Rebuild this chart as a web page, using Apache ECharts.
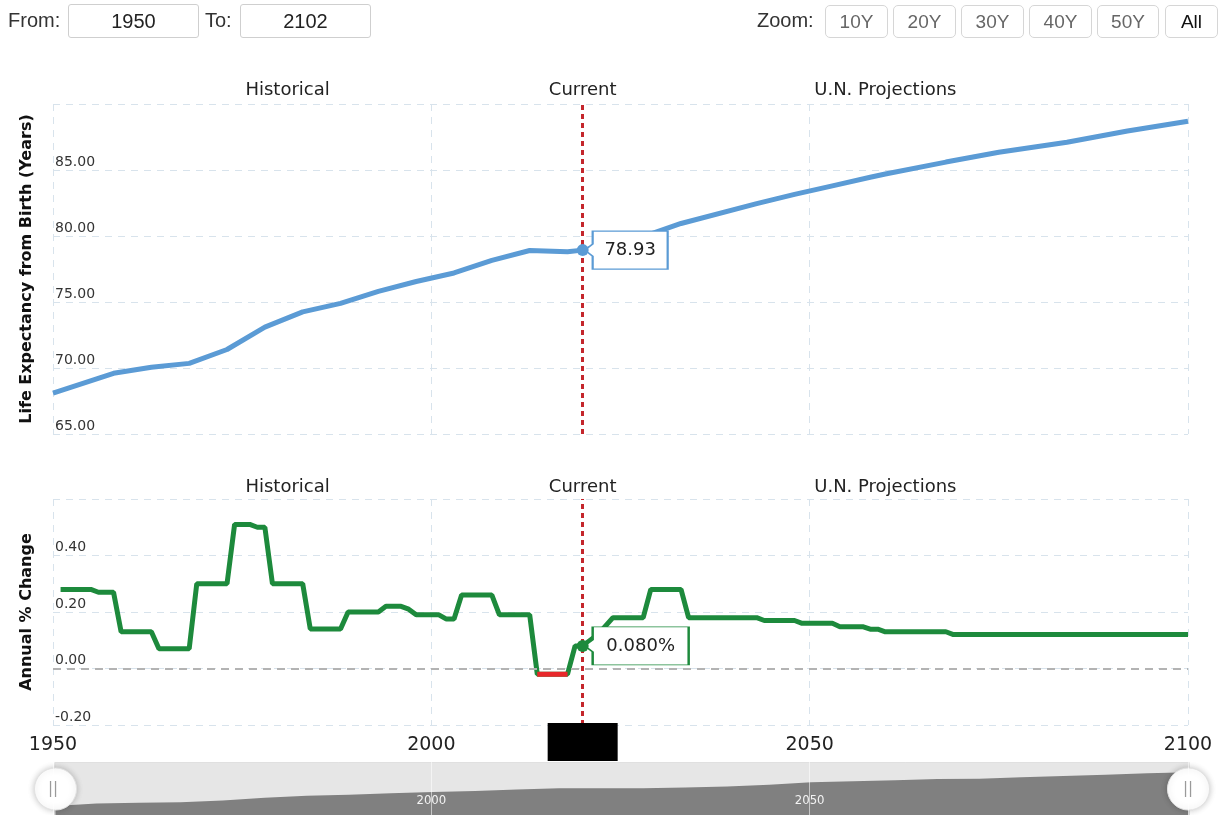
<!DOCTYPE html>
<html><head><meta charset="utf-8">
<script src="https://cdn.jsdelivr.net/npm/echarts@6/dist/echarts.min.js"></script>
<style>
html,body{margin:0;padding:0;background:#fff;width:1221px;height:815px;overflow:hidden;font-family:"Liberation Sans",Arial,sans-serif;}
#chart{position:absolute;left:0;top:0;width:1221px;height:815px;}
.hdr{position:absolute;top:0;left:0;width:1221px;height:44px;z-index:5;}
.t{position:absolute;top:8px;font-size:20px;color:#333;line-height:24px;}
.box{position:absolute;top:4px;height:34px;border:1px solid #cfcfcf;border-radius:3px;box-sizing:border-box;text-align:center;font-size:20px;line-height:32px;color:#222;background:#fff;}
.btn{position:absolute;top:5px;height:33px;border:1px solid #d6d6d6;border-radius:5px;box-sizing:border-box;text-align:center;font-size:19px;line-height:31px;color:#666;background:#fff;}
</style></head>
<body>
<div id="chart"></div>
<div class="hdr">
  <div class="t" style="left:8px">From:</div>
  <div class="box" style="left:68px;width:131px">1950</div>
  <div class="t" style="left:205px">To:</div>
  <div class="box" style="left:240px;width:131px">2102</div>
  <div class="t" style="left:757px">Zoom:</div>
  <div class="btn" style="left:825px;width:63px">10Y</div>
  <div class="btn" style="left:893px;width:63px">20Y</div>
  <div class="btn" style="left:961px;width:63px">30Y</div>
  <div class="btn" style="left:1029px;width:63px">40Y</div>
  <div class="btn" style="left:1097px;width:62px">50Y</div>
  <div class="btn" style="left:1165px;width:53px;color:#111">All</div>
</div>
<script>
// ---- data ----
const lifeYears  = [1950,1958,1963,1968,1973,1978,1983,1988,1993,1998,2003,2008,2013,2018,2020,2024,2028,2033,2043,2048,2053,2058,2060,2068,2075,2084,2092,2100];
const lifeValues = [68.1,69.6,70.05,70.35,71.4,73.1,74.25,74.9,75.8,76.55,77.2,78.15,78.9,78.8,78.93,79.35,79.95,80.95,82.45,83.15,83.8,84.45,84.7,85.6,86.35,87.1,87.95,88.7];

const changeYears  = [1951,1955,1956,1958,1959,1963,1964,1968,1969,1973,1974,1976,1977,1978,1979,1983,1984,1988,1989,1993,1994,1996,1997,1998,2001,2002,2003,2004,2008,2009,2013,2014,2018,2019,2020,2021,2022,2023,2024,2028,2029,2033,2034,2043,2044,2048,2049,2053,2054,2057,2058,2059,2060,2068,2069,2100];
const changeValues = [0.28,0.28,0.27,0.27,0.13,0.13,0.07,0.07,0.30,0.30,0.51,0.51,0.50,0.50,0.30,0.30,0.14,0.14,0.20,0.20,0.22,0.22,0.21,0.19,0.19,0.175,0.175,0.26,0.26,0.19,0.19,-0.02,-0.02,0.08,0.08,0.10,0.12,0.15,0.18,0.18,0.28,0.28,0.18,0.18,0.17,0.17,0.16,0.16,0.148,0.148,0.139,0.139,0.13,0.13,0.12,0.12];

const currentYear = 2020;
const sectionLabels = ['Historical', 'Current', 'U.N. Projections'];
const sectionYears = [1981, 2020, 2060];

// ---- styles ----
const FONT = 'DejaVu Sans';
const BLUE = '#5b9bd5', GREEN = '#1d8a3c', RED = '#e8282b', VLINE = '#c4262c';
const gridDash = {color: '#d8e3ec', width: 1, type: [7, 6]};

const lifeData = lifeYears.map((y, i) => [y, lifeValues[i]]);
const changeData = changeYears.map((y, i) => [y, changeValues[i]]);
// negative stretch (drawn red) taken from the same arrays
const negData = changeData.filter(d => d[1] < 0);
const curLife = lifeValues[lifeYears.indexOf(currentYear)];
const curChange = changeValues[changeYears.indexOf(currentYear)];

const chart = echarts.init(document.getElementById('chart'), null, {renderer: 'canvas'});

function xAxisBase(gi, showLabels) {
  return {
    type: 'value', gridIndex: gi, min: 1950, max: 2100, interval: 50,
    axisLine: {show: false}, axisTick: {show: false},
    axisLabel: {show: showLabels, fontFamily: FONT, fontSize: 19, color: '#222', margin: 11,
      formatter: v => String(v)},
    splitLine: {show: true, lineStyle: gridDash}
  };
}

function callout(year, value, color, width, offsetX, text) {
  const w = width;
  return {
    coord: [year, value],
    symbol: 'path://M8,0L' + w + ',0L' + w + ',38L8,38L8,25L0,19L8,13Z',
    symbolSize: [w, 38], symbolOffset: [offsetX, 0],
    itemStyle: {color: '#fff', borderColor: color, borderWidth: 1.5},
    label: {show: true, position: 'inside', offset: [4, 0], formatter: () => text,
      fontFamily: FONT, fontSize: 18, color: '#222'}
  };
}

const option = {
  animation: false,
  backgroundColor: '#fff',
  grid: [
    {left: 53, right: 33, top: 104, height: 330, outerBoundsMode: 'none'},
    {left: 53, right: 33, top: 499, height: 226, outerBoundsMode: 'none'},
    {left: 53, right: 33, top: 762, height: 54, outerBoundsMode: 'none'}
  ],
  xAxis: [
    xAxisBase(0, false),
    xAxisBase(1, true),
    {
      type: 'value', gridIndex: 2, min: 1950, max: 2100, interval: 50, z: 10,
      axisLine: {show: false}, axisTick: {show: false},
      axisLabel: {show: true, inside: true, fontFamily: 'DejaVu Sans Condensed', fontSize: 13, color: '#f2f2f2',
        margin: 9, showMinLabel: false, showMaxLabel: false, formatter: v => String(v)},
      splitLine: {show: true, lineStyle: {color: 'rgba(255,255,255,0.55)', width: 1}}
    }
  ],
  yAxis: [
    {
      type: 'value', gridIndex: 0, min: 65, max: 90, interval: 5,
      name: 'Life Expectancy from Birth (Years)', nameLocation: 'middle', nameGap: 18, nameRotate: 90,
      nameTextStyle: {fontFamily: FONT, fontSize: 16, fontWeight: 'bold', color: '#111'},
      axisLine: {show: false}, axisTick: {show: false},
      axisLabel: {inside: true, margin: 2, verticalAlign: 'bottom', padding: [0, 0, 1, 0],
        fontFamily: FONT, fontSize: 14, color: '#333', showMaxLabel: false,
        formatter: v => v.toFixed(2)},
      splitLine: {show: true, lineStyle: gridDash}
    },
    {
      type: 'value', gridIndex: 1, min: -0.2, max: 0.6, interval: 0.2,
      name: 'Annual % Change', nameLocation: 'middle', nameGap: 18, nameRotate: 90,
      nameTextStyle: {fontFamily: FONT, fontSize: 16, fontWeight: 'bold', color: '#111'},
      axisLine: {show: false}, axisTick: {show: false},
      axisLabel: {inside: true, margin: 2, verticalAlign: 'bottom', padding: [0, 0, 1, 0],
        fontFamily: FONT, fontSize: 14, color: '#333', showMaxLabel: false,
        formatter: v => v.toFixed(2)},
      splitLine: {show: true, lineStyle: gridDash}
    },
    {type: 'value', gridIndex: 2, min: 0, max: 1, show: false}
  ],
  dataZoom: [{
    type: 'slider', xAxisIndex: [0, 1], filterMode: 'none', start: 0, end: 100,
    left: 53, right: 33, top: 762, height: 54,
    backgroundColor: '#e6e6e6', borderColor: '#e0e0e0', fillerColor: 'rgba(0,0,0,0)',
    showDetail: false, brushSelect: false, moveHandleSize: 0, showDataShadow: true,
    dataBackground: {lineStyle: {color: '#808080', width: 0, opacity: 0}, areaStyle: {color: '#808080', opacity: 1}},
    selectedDataBackground: {lineStyle: {color: '#808080', width: 0, opacity: 0}, areaStyle: {color: '#808080', opacity: 1}},
    handleIcon: 'circle', handleSize: '78%',
    handleStyle: {color: '#fff', borderColor: '#e2e2e2', borderWidth: 1, shadowBlur: 6, shadowColor: 'rgba(0,0,0,0.22)'},
    emphasis: {handleStyle: {color: '#fff', borderColor: '#e2e2e2'}}
  }],
  series: [
    {
      type: 'line', xAxisIndex: 0, yAxisIndex: 0, data: lifeData,
      showSymbol: false, lineStyle: {color: BLUE, width: 5}, itemStyle: {color: BLUE},
      silent: true, z: 3,
      markLine: {
        silent: true, symbol: ['none', 'none'], animation: false,
        label: {show: false},
        data: [{xAxis: currentYear, lineStyle: {color: VLINE, width: 3, type: [5, 4]}}]
      },
      markPoint: {
        silent: true, animation: false,
        data: [
          callout(currentYear, curLife, BLUE, 83, 43.5, curLife.toFixed(2)),
          {coord: [currentYear, curLife], symbol: 'circle', symbolSize: 12,
            itemStyle: {color: BLUE}, label: {show: false}}
        ]
      }
    },
    {
      type: 'line', xAxisIndex: 1, yAxisIndex: 1, data: changeData,
      showSymbol: false, lineStyle: {color: GREEN, width: 5}, itemStyle: {color: GREEN},
      silent: true, z: 3,
      markLine: {
        silent: true, symbol: ['none', 'none'], animation: false,
        label: {show: false},
        data: [
          {yAxis: 0, lineStyle: {color: '#b3b3b3', width: 2, type: [8, 6]}},
          {xAxis: currentYear, lineStyle: {color: VLINE, width: 3, type: [5, 4]}}
        ]
      },
      markPoint: {
        silent: true, animation: false,
        data: [
          callout(currentYear, curChange, GREEN, 104, 54, curChange.toFixed(3) + '%'),
          {coord: [currentYear, curChange], symbol: 'circle', symbolSize: 12,
            itemStyle: {color: GREEN}, label: {show: false}}
        ]
      }
    },
    {
      type: 'line', xAxisIndex: 1, yAxisIndex: 1, data: negData,
      showSymbol: false, lineStyle: {color: RED, width: 5}, itemStyle: {color: RED},
      silent: true, z: 4
    }
  ]
};

chart.setOption(option);

// section labels, placeholder box and slider handle marks positioned via the chart's own scales
const graphics = [];
const topY0 = chart.convertToPixel({yAxisIndex: 0}, 90);
const topY1 = chart.convertToPixel({yAxisIndex: 1}, 0.6);
sectionLabels.forEach((txt, i) => {
  const x0 = chart.convertToPixel({xAxisIndex: 0}, sectionYears[i]);
  const x1 = chart.convertToPixel({xAxisIndex: 1}, sectionYears[i]);
  [[x0, topY0 - 14], [x1, topY1 - 12]].forEach(p => {
    graphics.push({type: 'text', x: p[0], y: p[1], z: 20,
      style: {text: txt, fontFamily: FONT, fontSize: 18, fill: '#222', align: 'center', verticalAlign: 'middle'}});
  });
});
const cx = chart.convertToPixel({xAxisIndex: 1}, currentYear);
const bottomY = chart.convertToPixel({yAxisIndex: 1}, -0.2);
graphics.push({type: 'rect', z: 30, shape: {x: cx - 35, y: bottomY - 2, width: 70, height: 38}, style: {fill: '#000'}});
[1950, 2100].forEach(yr => {
  const hx = chart.convertToPixel({xAxisIndex: 2}, yr);
  graphics.push({type: 'text', x: hx, y: 789, z: 100, zlevel: 1,
    style: {text: '||', fontFamily: FONT, fontSize: 15, fill: '#9a9a9a', align: 'center', verticalAlign: 'middle'}});
});
chart.setOption({graphic: graphics});
</script>
</body></html>
